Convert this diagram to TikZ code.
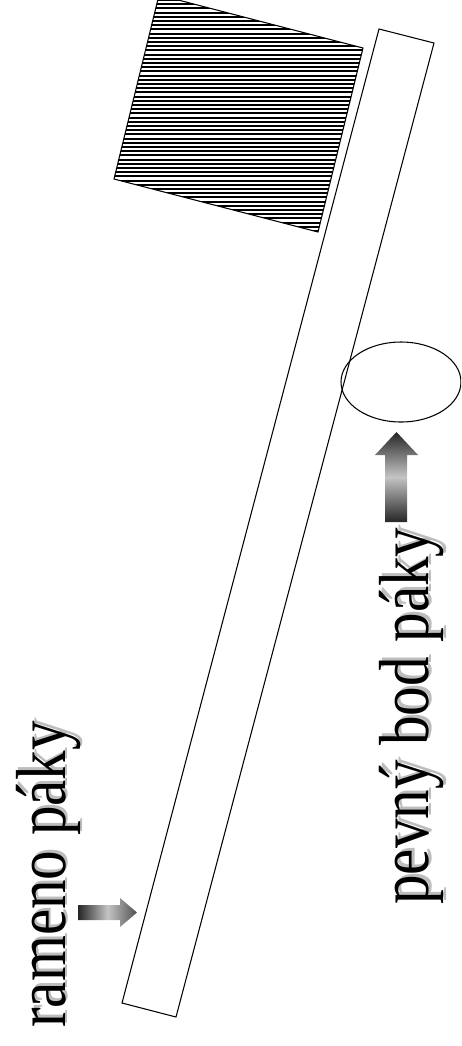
\documentclass[tikz,border=0pt]{standalone}
\usepackage{fontspec}
\setmainfont{Liberation Serif}
\usepackage{graphicx}
\usepackage{tikz}
\usetikzlibrary{positioning,calc}
\definecolor{pakashadow}{HTML}{BDBDBD}
\definecolor{pakadark}{HTML}{262626}
\definecolor{pakalight}{HTML}{C4C4C4}
\tikzstyle{outline} = [draw=black, line width=0.6pt]
\tikzstyle{hatchline} = [draw=black, line width=1.1pt]
\tikzstyle{pakatext} = [rotate=90, anchor=base west, inner sep=0pt,
    font=\fontsize{33.6}{40}\selectfont]
\newcommand{\tallword}[1]{\scalebox{1}[1.2]{#1}}

\begin{document}
\begin{tikzpicture}[x=0.02cm, y=-0.02cm]
\useasboundingbox (0,0) rectangle (461,1046);
\clip (0,0) rectangle (461,1046);

\begin{scope}
\clip (114,179) -- (159,-5) -- (363,48) -- (318,232) -- cycle;
\foreach \k in {0,...,56}
    \draw[hatchline] (100,\k*4.2) -- (370,\k*4.2);
\end{scope}
\draw[outline] (114,179) -- (159,-5) -- (363,48) -- (318,232) -- cycle;

\draw[outline] (379,29) -- (434,43) -- (176,1017) -- (122,1003) -- cycle;
\draw[outline] (401,382) ellipse [x radius=60, y radius=40];

\shade[top color=pakadark, bottom color=pakadark, middle color=pakalight]
    (385,522) -- (385,455) -- (375,455) -- (396.5,432) -- (418,455) -- (407,455) -- (407,522) -- cycle;
\shade[left color=pakadark, right color=pakadark!80, middle color=pakalight]
    (78,905) -- (120,905) -- (120,898) -- (137,912.5) -- (120,927) -- (120,920) -- (78,920) -- cycle;

\node[pakatext, text=pakashadow] (ramenoshadow) at (68,1025) {\tallword{rameno páky}};
\node[pakatext] (rameno) at (65,1028) {\tallword{rameno páky}};
\node[pakatext, text=pakashadow] (bodshadow) at (431,902) {\tallword{pevný bod páky}};
\node[pakatext] (bod) at (428,905) {\tallword{pevný bod páky}};
\end{tikzpicture}
\end{document}
